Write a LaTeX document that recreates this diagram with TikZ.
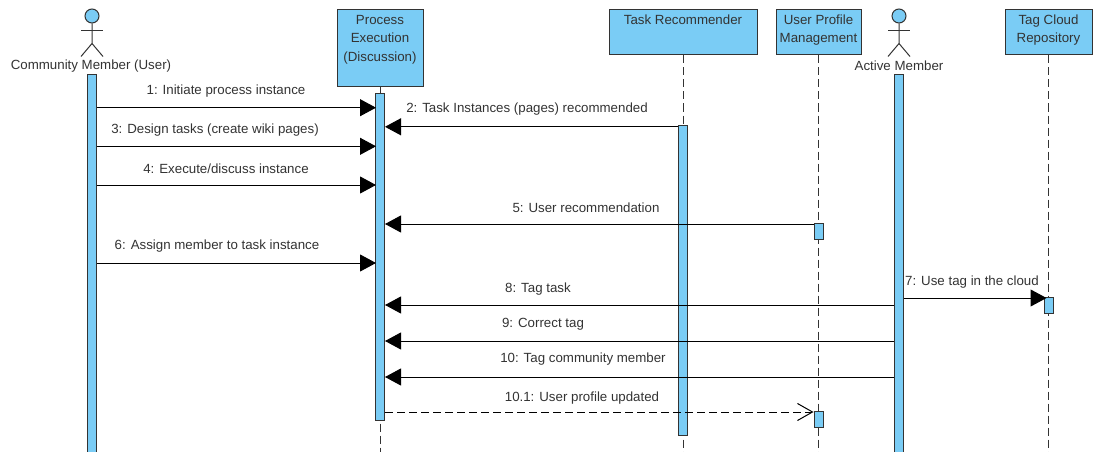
\documentclass[tikz,border=0pt]{standalone}
\usepackage{fontspec}
\setmainfont{Liberation Sans}
\usetikzlibrary{positioning}
\usetikzlibrary{arrows.meta}
\definecolor{lifeblue}{RGB}{122,204,245}
\definecolor{inkgray}{RGB}{51,51,51}

\begin{document}
\begin{tikzpicture}[x=1pt, y=-1pt, line width=1pt, draw=inkgray, text=inkgray,
    font=\fontsize{13.3}{18.5}\selectfont,
    head/.style={draw, fill=lifeblue, align=center, inner sep=0pt, minimum height=45pt},
    bar/.style={draw, fill=lifeblue, inner sep=0pt, minimum width=9pt},
    life/.style={dash pattern=on 8pt off 4pt},
    msg/.style={draw=black, -{Triangle[length=16pt, width=17pt]}},
    reply/.style={draw=black, dash pattern=on 8pt off 4pt, -{Straight Barb[length=15pt, width=17pt]}},
    msgtext/.style={inner sep=0pt}]

    \useasboundingbox (0,0) rectangle (1093,452);
    \coordinate(bottom) at (0,452);

    % heads
    \node(P1)[head, minimum width=86pt, minimum height=77pt, text depth=21pt] at (380,48.5) {Process\\Execution\\(Discussion)};
    \node(T1)[head, minimum width=148pt, text depth=26pt, below right=0pt and 185pt of P1.north east] {Task Recommender};
    \node(M1)[head, minimum width=85pt, text depth=7.5pt, below right=0pt and 18pt of T1.north east] {User Profile\\Management};
    \node(R1)[head, minimum width=87pt, text depth=7.5pt, below right=0pt and 143pt of M1.north east] {Tag Cloud\\Repository};

    % actors
    \node(U1)[draw, circle, fill=lifeblue, minimum size=14pt, inner sep=0pt] at (92,16) {};
    \coordinate[below=20pt of U1] (U2);
    \coordinate[below=7pt of U1] (U3);
    \coordinate[below left=33pt and 11pt of U1.south] (U4);
    \coordinate[below right=33pt and 11pt of U1.south] (U5);
    \draw (U1) -- (U2) -- (U4);
    \draw (U2) -- (U5);
    \draw (U3) ++(-11,0) -- ++(22,0);
    \node(UL)[msgtext] at (91,66) {Community Member (User)};

    \node(A1)[draw, circle, fill=lifeblue, minimum size=14pt, inner sep=0pt] at (899,16) {};
    \coordinate[below=20pt of A1] (A2);
    \coordinate[below=7pt of A1] (A3);
    \coordinate[below left=33pt and 11pt of A1.south] (A4);
    \coordinate[below right=33pt and 11pt of A1.south] (A5);
    \draw (A1) -- (A2) -- (A4);
    \draw (A2) -- (A5);
    \draw (A3) ++(-11,0) -- ++(22,0);
    \node(AL)[msgtext] at (899,66) {Active Member};

    % lifelines
    \draw[life] (P1.south) -- (P1.south |- bottom);
    \draw[life] (T1.south) -- (T1.south |- bottom);
    \draw[life] (M1.south) -- (M1.south |- bottom);
    \draw[life] (R1.south) -- (R1.south |- bottom);

    \node(L7)[msgtext] at (972,282) {7: Use tag in the cloud};

    % activations
    \node(UB)[bar, minimum height=377pt, below=51pt of U1] {};
    \node(PB)[bar, minimum height=326pt, below=6pt of P1] {};
    \node(TB)[bar, minimum height=310pt, below=69pt of T1] {};
    \node(MB)[bar, minimum height=16pt, below=167pt of M1] {};
    \node(MC)[bar, minimum height=16pt, below=355pt of M1] {};
    \node(AB)[bar, minimum height=377pt, below=51pt of A1] {};
    \node(RB)[bar, minimum height=16pt, below=241pt of R1] {};

    % messages
    \coordinate(y1) at (0,107.7);
    \coordinate(y2) at (0,126.8);
    \coordinate(y3) at (0,146.3);
    \coordinate(y4) at (0,185);
    \coordinate(y5) at (0,224);
    \coordinate(y6) at (0,263);
    \coordinate(y7) at (0,298);
    \coordinate(y8) at (0,305);
    \coordinate(y9) at (0,341);
    \coordinate(y10) at (0,377);
    \coordinate(y11) at (0,412);

    \draw[msg, shorten >=-1pt] (UB.east |- y1) -- (PB.west |- y1);
    \draw[msg] (TB.west |- y2) -- (PB.east |- y2);
    \draw[msg, shorten >=-1pt] (UB.east |- y3) -- (PB.west |- y3);
    \draw[msg, shorten >=-1pt] (UB.east |- y4) -- (PB.west |- y4);
    \draw[msg] (MB.west |- y5) -- (PB.east |- y5);
    \draw[msg, shorten >=-1pt] (UB.east |- y6) -- (PB.west |- y6);
    \draw[msg, shorten >=-3pt] (AB.east |- y7) -- (RB.west |- y7);
    \draw[msg] (AB.west |- y8) -- (PB.east |- y8);
    \draw[msg] (AB.west |- y9) -- (PB.east |- y9);
    \draw[msg] (AB.west |- y10) -- (PB.east |- y10);
    \draw[reply] (PB.east |- y11) -- (MC.west |- y11);

    \node(L1)[msgtext] at (226,91) {1: Initiate process instance};
    \node(L2)[msgtext] at (527,109) {2: Task Instances (pages) recommended};
    \node(L3)[msgtext] at (215,130) {3: Design tasks (create wiki pages)};
    \node(L4)[msgtext] at (226,169) {4: Execute/discuss instance};
    \node(L5)[msgtext] at (586,208) {5: User recommendation};
    \node(L6)[msgtext] at (217,246) {6: Assign member to task instance};
    \node(L8)[msgtext] at (538,289) {8: Tag task};
    \node(L9)[msgtext] at (543,324) {9: Correct tag};
    \node(L10)[msgtext] at (583,359) {10: Tag community member};
    \node(L11)[msgtext] at (582,398) {10.1: User profile updated};

\end{tikzpicture}
\end{document}
